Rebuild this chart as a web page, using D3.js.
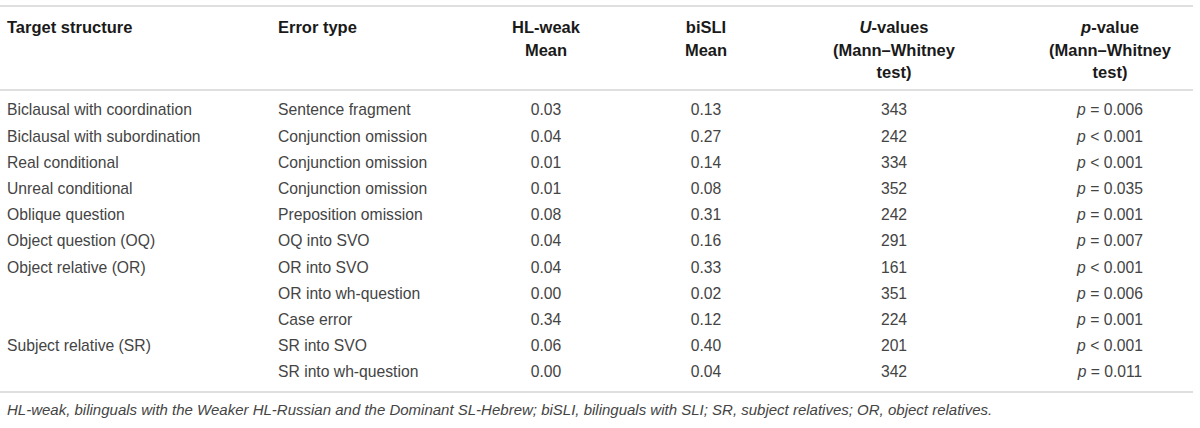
<!DOCTYPE html>
<html>
<head>
<meta charset="utf-8">
<script src="https://cdn.jsdelivr.net/npm/d3@7"></script>
<style>
  html, body { margin: 0; padding: 0; background: #fff; }
  svg { display: block; font-family: "Liberation Sans", Arial, sans-serif; }
</style>
</head>
<body>
<div id="table"></div>
<script>
// table content
const targets = ["Biclausal with coordination", "Biclausal with subordination", "Real conditional",
  "Unreal conditional", "Oblique question", "Object question (OQ)", "Object relative (OR)",
  "", "", "Subject relative (SR)", ""];
const errorTypes = ["Sentence fragment", "Conjunction omission", "Conjunction omission",
  "Conjunction omission", "Preposition omission", "OQ into SVO", "OR into SVO",
  "OR into wh-question", "Case error", "SR into SVO", "SR into wh-question"];
const hlWeak = [0.03, 0.04, 0.01, 0.01, 0.08, 0.04, 0.04, 0.00, 0.34, 0.06, 0.00];
const biSLI = [0.13, 0.27, 0.14, 0.08, 0.31, 0.16, 0.33, 0.02, 0.12, 0.40, 0.04];
const uValues = [343, 242, 334, 352, 242, 291, 161, 351, 224, 201, 342];
const pSign = ["=", "<", "<", "=", "=", "=", "<", "=", "=", "<", "="];
const pValues = [0.006, 0.001, 0.001, 0.035, 0.001, 0.007, 0.001, 0.006, 0.001, 0.001, 0.011];
const footnote = "HL-weak, bilinguals with the Weaker HL-Russian and the Dominant SL-Hebrew; biSLI, bilinguals with SLI; SR, subject relatives; OR, object relatives.";

const width = 1200;
const height = 428;

const svg = d3.select("#table")
    .append("svg")
    .attr("width", width)
    .attr("height", height);

const rows = d3.range(errorTypes.length);

// rows on a point scale
const y = d3.scalePoint()
    .domain(rows)
    .range([110, 372]);

// column anchors
const colX = d3.scaleOrdinal()
    .domain(["target", "error", "hl", "bi", "u", "p"])
    .range([7, 278, 546, 706, 894, 1110]);

const colAnchor = d3.scaleOrdinal()
    .domain(["target", "error", "hl", "bi", "u", "p"])
    .range(["start", "start", "middle", "middle", "middle", "middle"]);

const fmt = d3.format(".2f");
const fmtP = d3.format(".3f");

// rules
const ruleColor = "#d4d4d4";
[6, 90, 392].forEach(yy => {
    svg.append("line")
        .attr("x1", 0)
        .attr("x2", 1193)
        .attr("y1", yy)
        .attr("y2", yy)
        .attr("stroke", ruleColor)
        .attr("stroke-width", 1.5);
});

// header
const headerLines = [
    { col: "target", lines: [["Target structure"]] },
    { col: "error", lines: [["Error type"]] },
    { col: "hl", lines: [["HL-weak"], ["Mean"]] },
    { col: "bi", lines: [["biSLI"], ["Mean"]] },
    { col: "u", lines: [["U", "-values"], ["(Mann\u2013Whitney"], ["test)"]] },
    { col: "p", lines: [["p", "-value"], ["(Mann\u2013Whitney"], ["test)"]] }
];
const headerY = [27, 50, 72];

headerLines.forEach(h => {
    h.lines.forEach((parts, li) => {
        const t = svg.append("text")
            .attr("x", colX(h.col))
            .attr("y", headerY[li])
            .attr("dy", "0.35em")
            .attr("text-anchor", colAnchor(h.col))
            .style("font-size", "16.5px")
            .style("font-weight", "bold")
            .style("fill", "#1a1a1a");
        parts.forEach((p, pi) => {
            t.append("tspan")
                .style("font-style", parts.length > 1 && pi === 0 ? "italic" : "normal")
                .text(p);
        });
    });
});

// body
const bodyStyle = sel => sel
    .attr("dy", "0.35em")
    .style("font-size", "15.7px")
    .style("fill", "#444");

const cols = [
    { col: "target", vals: targets },
    { col: "error", vals: errorTypes },
    { col: "hl", vals: hlWeak.map(fmt) },
    { col: "bi", vals: biSLI.map(fmt) },
    { col: "u", vals: uValues.map(String) }
];

cols.forEach(c => {
    svg.append("g")
        .selectAll("text")
        .data(rows)
        .enter()
        .append("text")
        .attr("x", colX(c.col))
        .attr("y", d => y(d))
        .attr("text-anchor", colAnchor(c.col))
        .call(bodyStyle)
        .text(d => c.vals[d]);
});

const pText = svg.append("g")
    .selectAll("text")
    .data(rows)
    .enter()
    .append("text")
    .attr("x", colX("p"))
    .attr("y", d => y(d))
    .attr("text-anchor", "middle")
    .call(bodyStyle);

pText.append("tspan").style("font-style", "italic").text("p");
pText.append("tspan").text(d => " " + pSign[d] + " " + fmtP(pValues[d]));

// footnote
svg.append("text")
    .attr("x", 7)
    .attr("y", 410)
    .attr("dy", "0.35em")
    .style("font-size", "15px")
    .style("font-style", "italic")
    .style("fill", "#444")
    .text(footnote);
</script>
</body>
</html>
